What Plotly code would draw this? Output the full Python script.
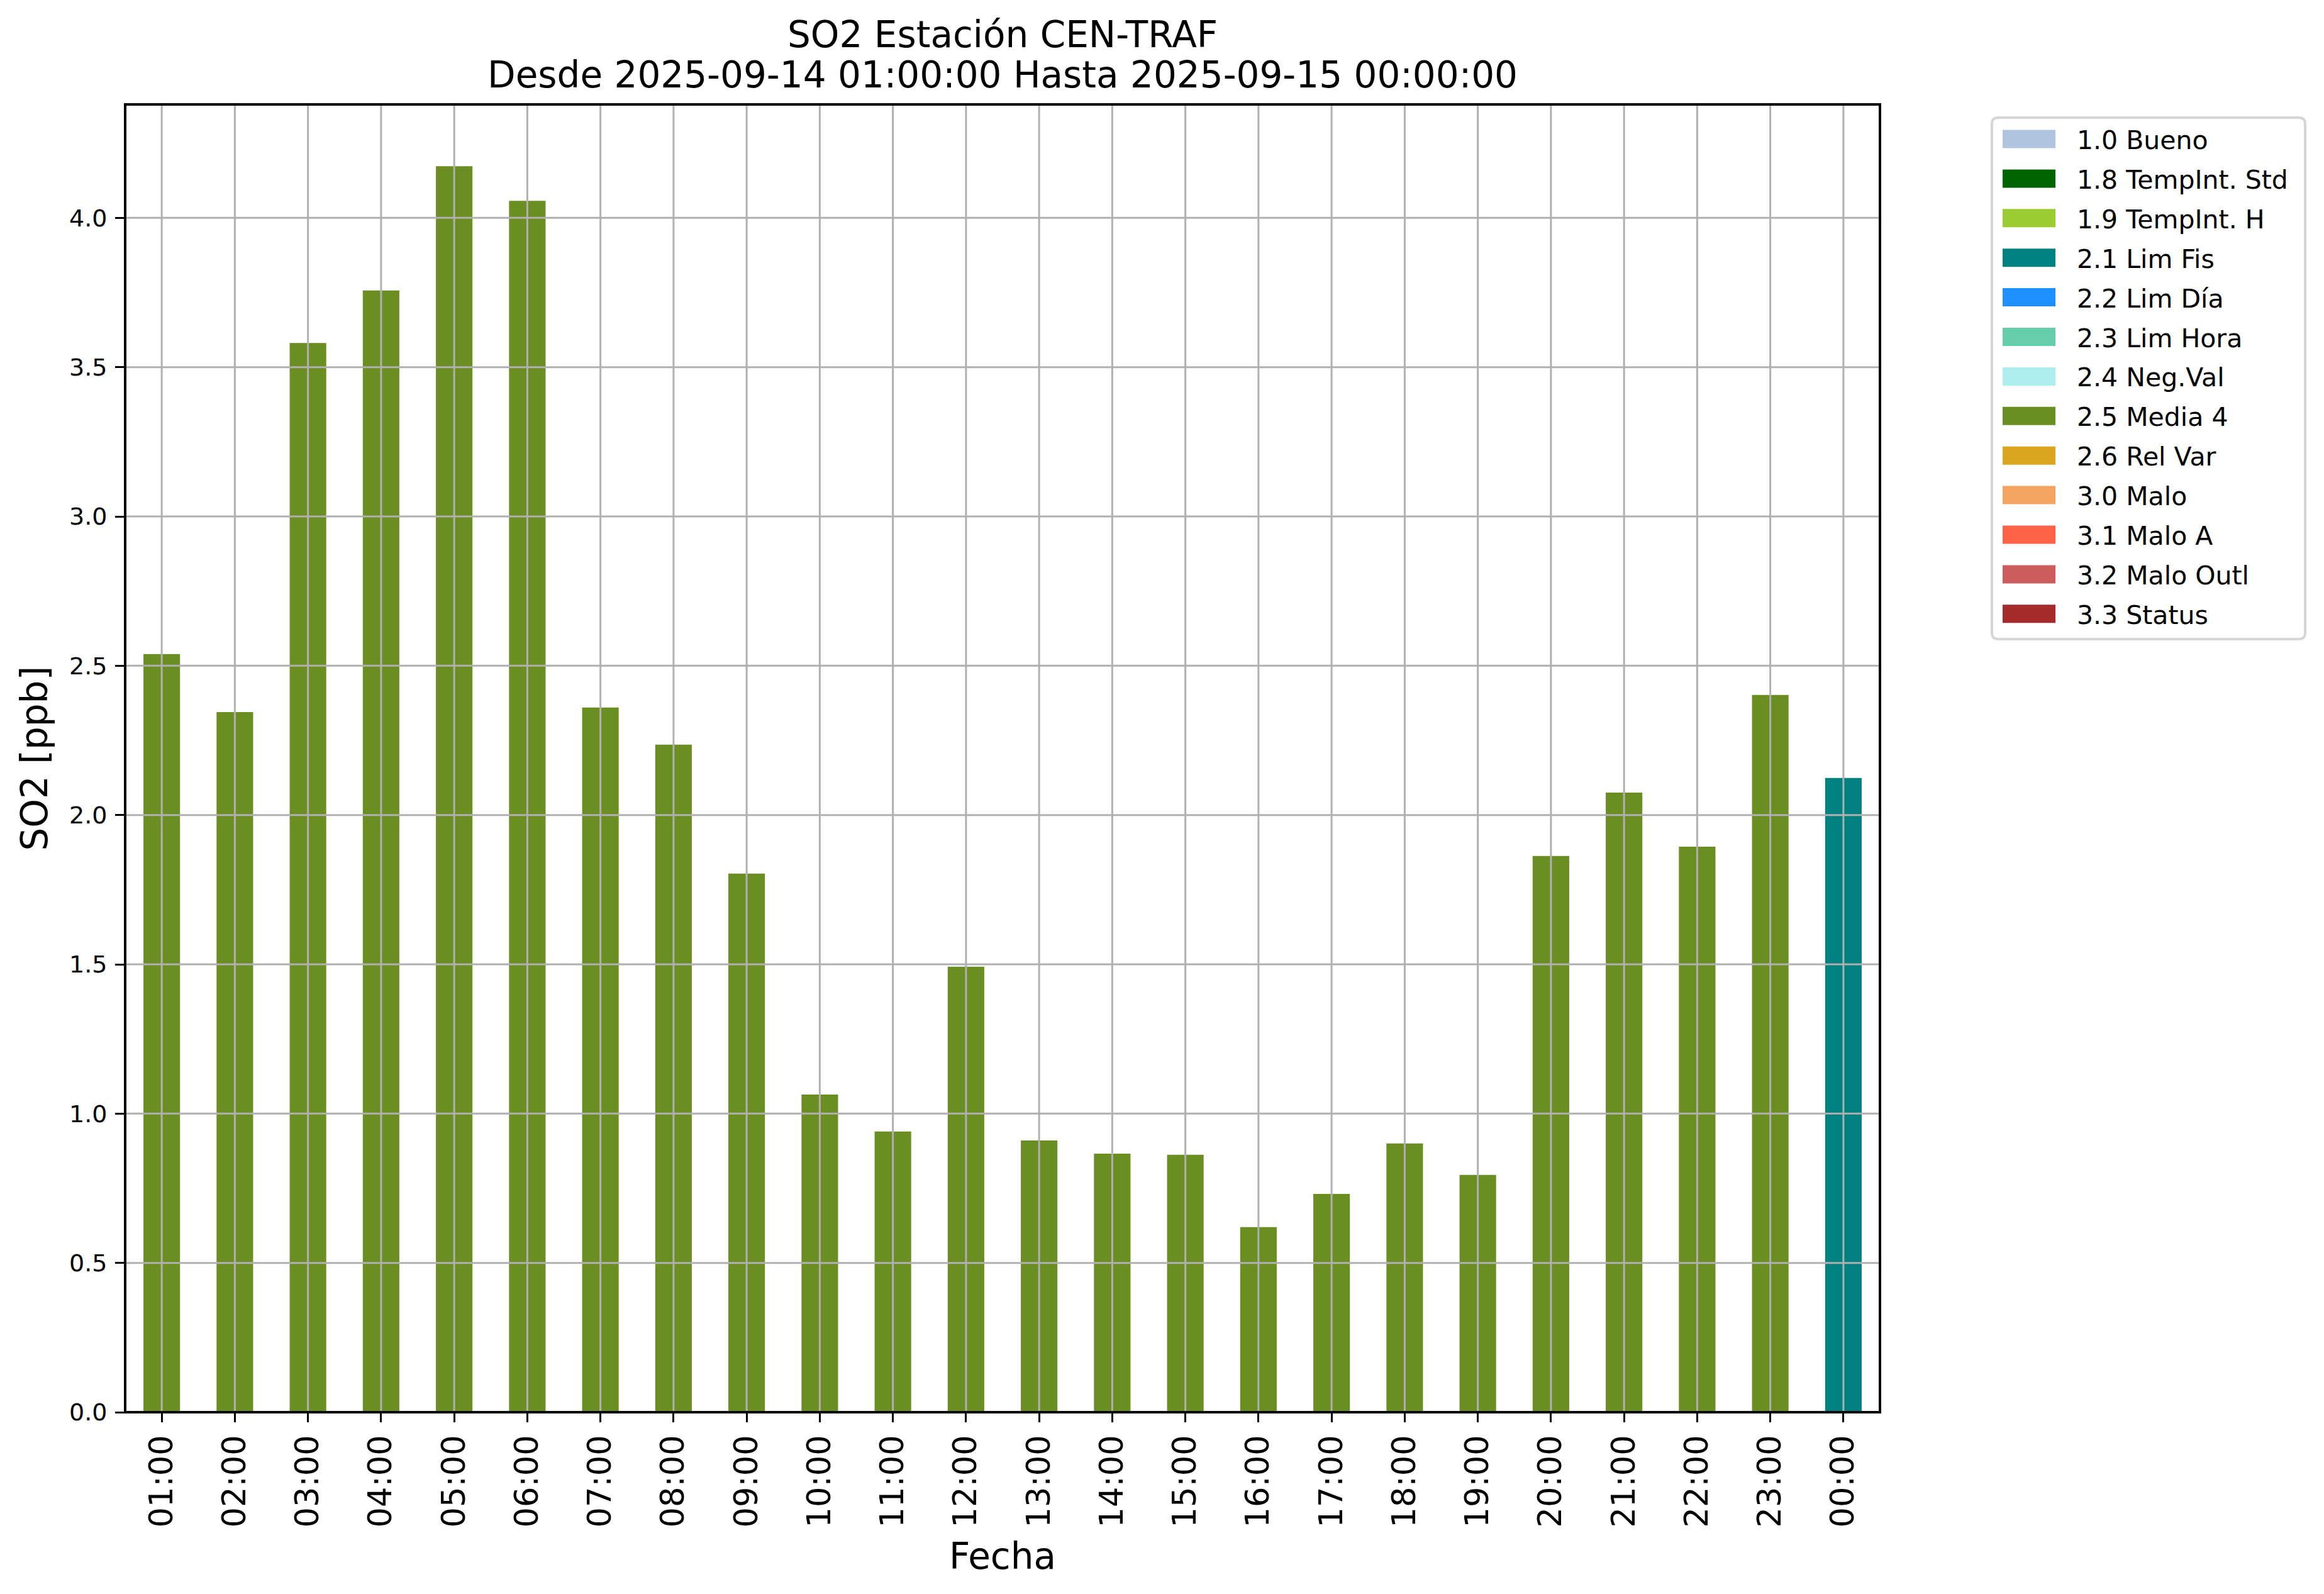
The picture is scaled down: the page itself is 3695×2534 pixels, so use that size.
import plotly.graph_objects as go

# ---------------- data ----------------
HOURS = ["01:00", "02:00", "03:00", "04:00", "05:00", "06:00", "07:00", "08:00",
         "09:00", "10:00", "11:00", "12:00", "13:00", "14:00", "15:00", "16:00",
         "17:00", "18:00", "19:00", "20:00", "21:00", "22:00", "23:00", "00:00"]
SO2 = [2.539, 2.345, 3.581, 3.757, 4.173, 4.057, 2.360, 2.236,
       1.804, 1.064, 0.940, 1.492, 0.910, 0.866, 0.862, 0.620,
       0.731, 0.900, 0.795, 1.863, 2.075, 1.894, 2.402, 2.124]
FLAG = ["2.5 Media 4"] * 23 + ["2.1 Lim Fis"]

FLAG_LABELS = ["1.0 Bueno", "1.8 TempInt. Std", "1.9 TempInt. H", "2.1 Lim Fis",
               "2.2 Lim Día", "2.3 Lim Hora", "2.4 Neg.Val", "2.5 Media 4",
               "2.6 Rel Var", "3.0 Malo", "3.1 Malo A", "3.2 Malo Outl", "3.3 Status"]
FLAG_COLORS = ["#B0C4DE", "#006400", "#9ACD32", "#008080",
               "#1E90FF", "#66CDAA", "#AFEEEE", "#6B8E23",
               "#DAA520", "#F4A460", "#FF6347", "#CD5C5C", "#A52A2A"]

Y_TICKS = [0.0, 0.5, 1.0, 1.5, 2.0, 2.5, 3.0, 3.5, 4.0]
Y_MAX = 4.38

TITLE_1 = "SO2 Estación CEN-TRAF"
TITLE_2 = "Desde 2025-09-14 01:00:00 Hasta 2025-09-15 00:00:00"
X_LABEL = "Fecha"
Y_LABEL = "SO2 [ppb]"

# ---------------- layout geometry (pixels, in page coordinates) ----------------
OFF = 8                      # default page body margin
PAGE_W, PAGE_H = 3695, 2534
W, H = PAGE_W - OFF, PAGE_H - OFF
PLOT_L, PLOT_R, PLOT_T, PLOT_B = 199, 2989, 166, 2245   # plot area on the page
L = PLOT_L - OFF
T = PLOT_T - OFF
PW, PH = PLOT_R - PLOT_L, PLOT_B - PLOT_T
R = W - L - PW
B = H - T - PH
FONT = "DejaVu Sans"
GRID = "#b0b0b0"


def px_x(px):
    return (px - PLOT_L) / PW


def px_y(py):
    return (PLOT_B - py) / PH


fig = go.Figure()
for label, color in zip(FLAG_LABELS, FLAG_COLORS):
    ys = [v if f == label else None for v, f in zip(SO2, FLAG)]
    fig.add_trace(go.Bar(x=HOURS, y=ys, name=label, width=0.5,
                         marker=dict(color=color, line=dict(width=0)),
                         showlegend=False))

shapes = []
# grid lines drawn above bars (as in the reference)
for h in HOURS:
    shapes.append(dict(type="line", xref="x", yref="paper", x0=h, x1=h, y0=0, y1=1,
                       line=dict(color=GRID, width=3), layer="above"))
for v in Y_TICKS:
    if v == 0:
        continue
    shapes.append(dict(type="line", xref="paper", yref="y", x0=0, x1=1, y0=v, y1=v,
                       line=dict(color=GRID, width=3), layer="above"))
# frame
shapes.append(dict(type="rect", xref="paper", yref="paper", x0=0, x1=1, y0=0, y1=1,
                   line=dict(color="black", width=4), fillcolor="rgba(0,0,0,0)",
                   layer="above"))

# manual legend (wide patches like the original)
LX0, LX1, LY0, LY1 = 3167, 3665, 187, 1016
r = 10
x0, x1 = px_x(LX0), px_x(LX1)
y0, y1 = px_y(LY1), px_y(LY0)
rx, ry = r / PW, r / PH
path = (f"M {x0+rx},{y1} L {x1-rx},{y1} Q {x1},{y1} {x1},{y1-ry} "
        f"L {x1},{y0+ry} Q {x1},{y0} {x1-rx},{y0} L {x0+rx},{y0} "
        f"Q {x0},{y0} {x0},{y0+ry} L {x0},{y1-ry} Q {x0},{y1} {x0+rx},{y1} Z")
shapes.append(dict(type="path", xref="paper", yref="paper", path=path,
                   line=dict(color="#d6d6d6", width=4), fillcolor="white"))

annotations = []
ROW0, STEP = 221, 62.9
for i, (label, color) in enumerate(zip(FLAG_LABELS, FLAG_COLORS)):
    cy = ROW0 + i * STEP
    shapes.append(dict(type="rect", xref="paper", yref="paper",
                       x0=px_x(3184), x1=px_x(3268),
                       y0=px_y(cy + 14.5), y1=px_y(cy - 14.5),
                       line=dict(width=0), fillcolor=color))
    annotations.append(dict(xref="paper", yref="paper", x=px_x(3300), y=px_y(cy + 2),
                            xanchor="left", yanchor="middle", text=label,
                            showarrow=False, font=dict(family=FONT, size=41, color="black")))

# titles and axis labels
annotations.append(dict(xref="paper", yref="paper", x=0.5, y=1, yshift=PLOT_T - 55,
                        xanchor="center", yanchor="middle", text=TITLE_1, showarrow=False,
                        font=dict(family=FONT, size=58, color="black")))
annotations.append(dict(xref="paper", yref="paper", x=0.5, y=1, yshift=PLOT_T - 119,
                        xanchor="center", yanchor="middle", text=TITLE_2, showarrow=False,
                        font=dict(family=FONT, size=58, color="black")))
annotations.append(dict(xref="paper", yref="paper", x=0, y=0.5, xshift=54 - PLOT_L,
                        xanchor="center", yanchor="middle", text=Y_LABEL, textangle=-90,
                        showarrow=False, font=dict(family=FONT, size=58, color="black")))
annotations.append(dict(xref="paper", yref="paper", x=0.5, y=0, yshift=-(2474 - PLOT_B),
                        xanchor="center", yanchor="middle", text=X_LABEL,
                        showarrow=False, font=dict(family=FONT, size=58, color="black")))

fig.update_layout(
    width=W, height=H,
    margin=dict(l=L, r=R, t=T, b=B, pad=0),
    paper_bgcolor="white", plot_bgcolor="white",
    barmode="overlay",
    showlegend=False,
    font=dict(family=FONT, color="black"),
    shapes=shapes,
    annotations=annotations,
    xaxis=dict(type="category", range=[-0.5, len(HOURS) - 0.5],
               tickangle=-90, ticks="outside", ticklen=15, tickwidth=3,
               tickcolor="black", tickfont=dict(family=FONT, size=51, color="black"),
               showgrid=False, zeroline=False, showline=False),
    yaxis=dict(range=[0, Y_MAX], tickvals=Y_TICKS,
               ticktext=[f"{v:.1f}" for v in Y_TICKS],
               ticks="outside", ticklen=15, tickwidth=3, tickcolor="black",
               ticklabelstandoff=5,
               tickfont=dict(family=FONT, size=38, color="black"),
               showgrid=False, zeroline=False, showline=False),
)

fig.write_html("out.html")
